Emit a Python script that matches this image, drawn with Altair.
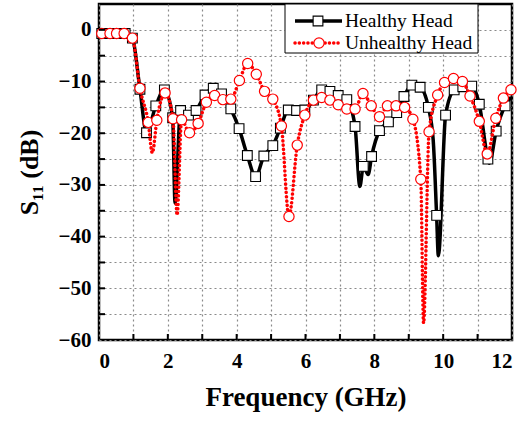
import altair as alt
import pandas as pd

series_names = ["Healthy Head", "Unhealthy Head"]

# Healthy head: marker points (squares)
healthy_mark_freq = [0.08, 0.32, 0.55, 0.76, 0.97, 1.19, 1.38, 1.65, 1.90, 2.14, 2.37, 2.60, 2.82,
                     3.08, 3.32, 3.56, 3.83, 4.07, 4.31, 4.55, 4.79, 5.05, 5.27, 5.50, 5.74, 5.98,
                     6.23, 6.47, 6.71, 6.95, 7.20, 7.44, 7.68, 7.92, 8.15, 8.41, 8.65, 8.86, 9.09,
                     9.33, 9.57, 9.81, 10.07, 10.32, 10.57, 10.83, 11.05, 11.30, 11.54, 11.80]
healthy_mark_s11 = [-0.7, -0.7, -0.7, -0.7, -1.6, -11.5, -19.9, -14.7, -11.6, -17.0, -15.6, -16.5, -15.6,
                    -12.6, -11.3, -12.4, -15.3, -19.1, -24.3, -28.4, -24.4, -22.4, -19.0, -15.5, -15.6, -15.5,
                    -13.6, -11.6, -11.9, -12.7, -13.5, -18.7, -26.4, -24.5, -19.5, -17.8, -16.0, -12.9, -10.7,
                    -11.1, -15.0, -35.9, -16.5, -11.6, -11.0, -10.9, -14.4, -25.0, -19.6, -14.7]
# Healthy head: extra curve points between markers (dips, ends)
healthy_extra_freq = [0.0, 2.21, 7.58, 7.82, 9.71, 9.86, 11.34, 11.98]
healthy_extra_s11 = [-0.7, -33.5, -30.3, -28.0, -21.3, -43.7, -25.8, -13.0]

# Unhealthy head: marker points (circles)
unhealthy_mark_freq = [0.08, 0.32, 0.51, 0.73, 0.97, 1.19, 1.43, 1.68, 1.92, 2.15, 2.40, 2.63, 2.88,
                       3.12, 3.36, 3.60, 3.83, 4.08, 4.32, 4.57, 4.81, 5.05, 5.30, 5.52, 5.76, 5.98,
                       6.23, 6.47, 6.71, 6.95, 7.20, 7.44, 7.67, 7.91, 8.15, 8.38, 8.63, 8.88, 9.12,
                       9.35, 9.59, 9.84, 10.04, 10.30, 10.56, 10.78, 11.05, 11.28, 11.53, 11.75, 11.97]
unhealthy_mark_s11 = [-0.7, -0.7, -0.7, -0.7, -1.6, -11.3, -17.9, -17.5, -12.2, -17.2, -17.4, -19.9, -18.1,
                      -14.0, -12.7, -13.5, -13.4, -9.8, -6.5, -8.6, -11.9, -13.4, -18.6, -36.1, -22.3, -16.5,
                      -13.6, -13.1, -13.6, -14.5, -15.3, -15.3, -12.3, -14.7, -16.8, -14.7, -14.7, -15.0, -17.3,
                      -28.9, -19.7, -12.6, -10.2, -9.4, -10.0, -12.8, -17.7, -24.0, -17.1, -13.2, -11.6]
unhealthy_extra_freq = [0.0, 1.55, 2.27, 9.43]
unhealthy_extra_s11 = [-0.7, -23.8, -35.8, -56.7]

x_tick_values = list(range(0, 13))
y_tick_values = list(range(-60, 1, 5))

W, H = 413, 336
FONT = "Liberation Serif"


def curve(mf, ms, ef, es):
    return pd.DataFrame({"f": mf + ef, "s": ms + es}).sort_values("f").reset_index(drop=True)


healthy_line = curve(healthy_mark_freq, healthy_mark_s11, healthy_extra_freq, healthy_extra_s11)
unhealthy_line = curve(unhealthy_mark_freq, unhealthy_mark_s11, unhealthy_extra_freq, unhealthy_extra_s11)
healthy_pts = pd.DataFrame({"f": healthy_mark_freq, "s": healthy_mark_s11})
unhealthy_pts = pd.DataFrame({"f": unhealthy_mark_freq, "s": unhealthy_mark_s11})

xscale = alt.Scale(domain=[0, 12], nice=False, zero=False)
yscale = alt.Scale(domain=[-60, 5], nice=False, zero=False)

x_axis = alt.Axis(values=x_tick_values, labelExpr="datum.value % 2 == 0 ? datum.label : ''",
                  grid=True, gridDash=[2, 3], gridColor="#8a8a8a", gridWidth=1.2,
                  ticks=False, domain=False, labelPadding=10, labelFont=FONT, labelFontSize=21,
                  labelFontWeight="bold", labelColor="black", title="Frequency (GHz)",
                  titleFont=FONT, titleFontSize=27, titleFontWeight="bold", titleColor="black",
                  titlePadding=13)
y_axis = alt.Axis(values=y_tick_values, labelExpr="datum.value % 10 == 0 ? datum.label : ''",
                  grid=True, gridDash=[2, 3], gridColor="#8a8a8a", gridWidth=1.2,
                  ticks=False, domain=False, labelPadding=8, labelFont=FONT, labelFontSize=21,
                  labelFontWeight="bold", labelColor="black", title="S₁₁ (dB)",
                  titleFont=FONT, titleFontSize=26, titleFontWeight="bold", titleColor="black",
                  titlePadding=16)

X = alt.X("f:Q", scale=xscale, axis=x_axis)
Y = alt.Y("s:Q", scale=yscale, axis=y_axis)

black_line = alt.Chart(healthy_line).mark_line(color="black", strokeWidth=3.5, interpolate="monotone").encode(x=X, y=Y)
black_pts = alt.Chart(healthy_pts).mark_point(shape="square", size=95, filled=True, fill="white",
                                              stroke="black", strokeWidth=1.1, opacity=1).encode(x=X, y=Y)
red_line = alt.Chart(unhealthy_line).mark_line(color="#ff0000", strokeWidth=3.5, strokeDash=[0.1, 4.2],
                                               strokeCap="round", interpolate="monotone").encode(x=X, y=Y)
red_pts = alt.Chart(unhealthy_pts).mark_point(shape="circle", size=105, filled=True, fill="white",
                                              stroke="#ff0000", strokeWidth=1.2, opacity=1).encode(x=X, y=Y)

xt = pd.DataFrame({"f": x_tick_values[1:-1]})
yt = pd.DataFrame({"s": y_tick_values[1:]})
x_ticks = alt.Chart(xt).mark_rule(color="black", strokeWidth=2).encode(
    x=X, y=alt.value(H), y2=alt.value(H - 6))
y_ticks = alt.Chart(yt).mark_rule(color="black", strokeWidth=2).encode(
    y=Y, x=alt.value(0), x2=alt.value(6))

# legend
one = pd.DataFrame({"a": [0]})
box = alt.Chart(one).mark_rect(fill="white", stroke="black", strokeWidth=1).encode(
    x=alt.value(186), x2=alt.value(379), y=alt.value(0), y2=alt.value(49))
leg_df = pd.DataFrame({"name": series_names, "row": [0, 1]})
rows = [17, 39]
leg_black_line = alt.Chart(one).mark_rule(color="black", strokeWidth=3.5).encode(
    x=alt.value(196), x2=alt.value(243), y=alt.value(rows[0]))
leg_black_pt = alt.Chart(one).mark_point(shape="square", size=95, filled=True, fill="white",
                                         stroke="black", strokeWidth=1.1, opacity=1).encode(
    x=alt.value(219), y=alt.value(rows[0]))
leg_red_line = alt.Chart(one).mark_rule(color="#ff0000", strokeWidth=3.5, strokeDash=[0.1, 4.2],
                                        strokeCap="round").encode(
    x=alt.value(196), x2=alt.value(243), y=alt.value(rows[1]))
leg_red_pt = alt.Chart(one).mark_point(shape="circle", size=105, filled=True, fill="white",
                                       stroke="#ff0000", strokeWidth=1.2, opacity=1).encode(
    x=alt.value(220), y=alt.value(rows[1]))
leg_text1 = alt.Chart(leg_df[leg_df.row == 0]).mark_text(align="left", baseline="middle", font=FONT,
                                                         fontSize=19.5, color="black").encode(
    x=alt.value(246), y=alt.value(rows[0]), text="name:N")
leg_text2 = alt.Chart(leg_df[leg_df.row == 1]).mark_text(align="left", baseline="middle", font=FONT,
                                                         fontSize=19.5, color="black").encode(
    x=alt.value(246), y=alt.value(rows[1]), text="name:N")

chart = alt.layer(black_line, black_pts, red_line, red_pts, x_ticks, y_ticks,
                  box, leg_black_line, leg_black_pt, leg_red_line, leg_red_pt, leg_text1, leg_text2).properties(
    width=W, height=H, autosize=alt.AutoSizeParams(type="none"),
    padding={"left": 99, "top": 4, "right": 14, "bottom": 81}, background="white"
).configure_view(stroke="black", strokeWidth=2.5)

chart.save("out.html", embed_options={"renderer": "svg", "actions": False})
